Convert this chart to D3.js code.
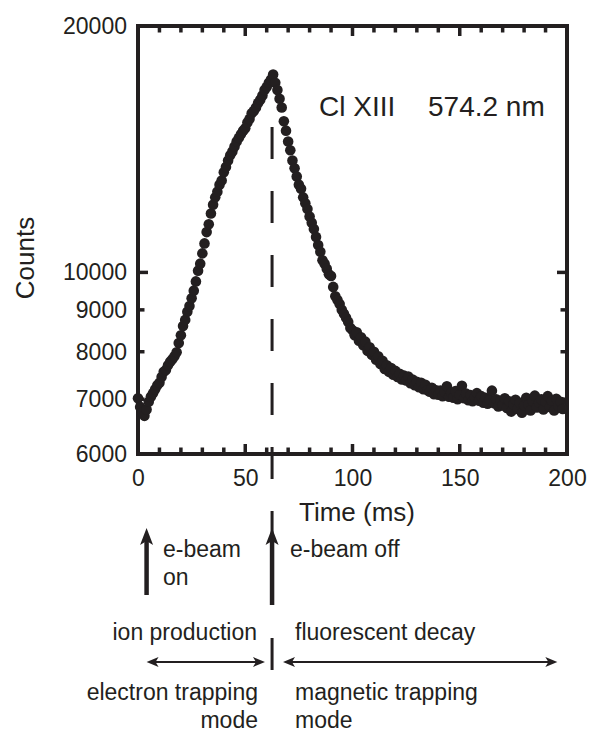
<!DOCTYPE html>
<html>
<head>
<meta charset="utf-8">
<script src="https://cdn.jsdelivr.net/npm/d3@7/dist/d3.min.js"></script>
<style>
body { margin: 0; background: #fff; }
text { font-family: "Liberation Sans", Arial, Helvetica, sans-serif; fill: #231f20; }
</style>
</head>
<body>
<div id="chart"></div>
<script>
// sample times (ms)
var timeMs = [
    0, 1, 2, 3, 4, 5, 6, 7, 8, 9, 10, 11, 12, 13, 14, 15, 16, 17, 18, 19,
    20, 21, 22, 23, 24, 25, 26, 27, 28, 29, 30, 31, 32, 33, 34, 35, 36, 37, 38, 39,
    40, 41, 42, 43, 44, 45, 46, 47, 48, 49, 50, 51, 52, 53, 54, 55, 56, 57, 58, 59,
    60, 61, 62, 63, 64, 65, 66, 67, 68, 69, 70, 71, 72, 73, 74, 75, 76, 77, 78, 79,
    80, 81, 82, 83, 84, 85, 86, 87, 88, 89, 90, 91, 92, 93, 94, 95, 96, 97, 98, 99,
    100, 101, 102, 103, 104, 105, 106, 107, 108, 109, 110, 111, 112, 113, 114, 115, 116, 117, 118, 119,
    120, 121, 122, 123, 124, 125, 126, 127, 128, 129, 130, 131, 132, 133, 134, 135, 136, 137, 138, 139,
    140, 141, 142, 143, 144, 145, 146, 147, 148, 149, 150, 151, 152, 153, 154, 155, 156, 157, 158, 159,
    160, 161, 162, 163, 164, 165, 166, 167, 168, 169, 170, 171, 172, 173, 174, 175, 176, 177, 178, 179,
    180, 181, 182, 183, 184, 185, 186, 187, 188, 189, 190, 191, 192, 193, 194, 195, 196, 197, 198
];

// Cl XIII 574.2 nm counts
var counts = [
    7020, 6850, 6750, 6680, 6800, 6950, 7050, 7120, 7200, 7280,
    7330, 7450, 7560, 7600, 7700, 7780, 7830, 7900, 7990, 8200,
    8380, 8600, 8750, 8950, 9100, 9300, 9500, 9750, 10050, 10250,
    10550, 10850, 11200, 11450, 11800, 12100, 12350, 12550, 12800, 12950,
    13250, 13450, 13700, 13900, 14050, 14250, 14450, 14600, 14750, 14900,
    15000, 15250, 15400, 15650, 15750, 15900, 16100, 16250, 16450, 16700,
    16850, 17050, 17200, 17450, 17050, 16700, 16300, 15900, 15300, 14900,
    14450, 14100, 13700, 13400, 13100, 12800, 12650, 12350, 12150, 11950,
    11700, 11500, 11300, 11050, 10800, 10600, 10350, 10250, 10100, 9950,
    9900, 9600, 9350, 9250, 9150, 9000, 8900, 8800, 8700, 8550,
    8500, 8380, 8450, 8250, 8330, 8150, 8230, 8020, 8100, 7930,
    8000, 7820, 7900, 7730, 7800, 7620, 7700, 7560, 7640, 7500,
    7580, 7450, 7520, 7400, 7480, 7380, 7460, 7320, 7400, 7280,
    7350, 7240, 7330, 7200, 7290, 7180, 7150, 7230, 7100, 7180,
    7090, 7170, 7060, 7140, 7260, 7050, 7130, 7030, 7160, 7000,
    7090, 7270, 7020, 7110, 6980, 7080, 6960, 7050, 7120, 6970,
    7060, 6930, 7030, 6910, 6990, 7170, 6920, 7000, 6860, 6970,
    6880, 7020, 6830, 6960, 6760, 6900, 6990, 6810, 6930, 6740,
    6880, 7030, 6890, 6780, 6960, 7070, 6840, 6930, 7000, 6800,
    6950, 7060, 6850, 6970, 6780, 7010, 6870, 6950, 6810
];

var xTicks = [0, 50, 100, 150, 200];
var xMinorTicks = [10, 20, 30, 40, 60, 70, 80, 90, 110, 120, 130, 140, 160, 170, 180, 190];
var yTicks = [10000];
var yMinorTicks = [7000, 8000, 9000];
var yLabels = [6000, 7000, 8000, 9000, 10000, 20000];

var beamOnMs = 4;
var beamOffMs = 62.5;
var productionSpan = [4, 59.2];
var decaySpan = [67.6, 195.5];

var ink = "#231f20";

var margin = {
    top: 26,
    right: 25,
    bottom: 280,
    left: 138
};

var width = 592 - margin.left - margin.right,
    height = 734 - margin.top - margin.bottom;

var root = d3.select("#chart").append("svg")
    .attr("width", 592)
    .attr("height", 734);

var svg = root.append("g")
    .attr("transform", "translate(" + margin.left + "," + margin.top + ")");

var x = d3.scaleLinear()
    .domain([0, 200])
    .range([0, width]);

var y = d3.scaleLog()
    .domain([6000, 20000])
    .range([height, 0]);

//ticks point inward on all four sides: long at labelled values, short between
var xMarks = xMinorTicks.map(function (v) { return {v: v, len: 6.5}; })
    .concat(xTicks.map(function (v) { return {v: v, len: 10}; }));
var yMarks = yMinorTicks.map(function (v) { return {v: v, len: 6.5}; })
    .concat(yTicks.map(function (v) { return {v: v, len: 10}; }));

var ticks = svg.append("g");

[height, 0].forEach(function (edge, k) {
    var dir = edge === 0 ? 1 : -1;
    ticks.selectAll(".xt" + k)
        .data(xMarks)
        .enter()
        .append("line")
        .attr("class", "xt" + k)
        .attr("x1", function (d) { return x(d.v); })
        .attr("x2", function (d) { return x(d.v); })
        .attr("y1", edge)
        .attr("y2", function (d) { return edge + dir * d.len; })
        .attr("stroke", ink)
        .attr("stroke-width", 3.5);
});

[0, width].forEach(function (edge, k) {
    var dir = edge === 0 ? 1 : -1;
    ticks.selectAll(".yt" + k)
        .data(yMarks)
        .enter()
        .append("line")
        .attr("class", "yt" + k)
        .attr("y1", function (d) { return y(d.v); })
        .attr("y2", function (d) { return y(d.v); })
        .attr("x1", edge)
        .attr("x2", function (d) { return edge + dir * d.len; })
        .attr("stroke", ink)
        .attr("stroke-width", 3.5);
});

//tick labels
var gx = svg.append("g")
    .attr("transform", "translate(0," + height + ")")
    .call(d3.axisBottom(x).tickValues(xTicks).tickSize(0).tickPadding(16));
var gy = svg.append("g")
    .call(d3.axisLeft(y).tickValues(yLabels).tickSize(0).tickPadding(11)
        .tickFormat(d3.format("d")));
gx.select(".domain").remove();
gy.select(".domain").remove();
gx.selectAll("text").attr("font-size", 23).attr("fill", ink);
gy.selectAll("text").attr("font-size", 23).attr("fill", ink);

//frame
svg.append("rect")
    .attr("width", width)
    .attr("height", height)
    .attr("fill", "none")
    .attr("stroke", ink)
    .attr("stroke-width", 4);

//beam off marker, carries on below the axis into the arrow
svg.append("line")
    .attr("x1", x(beamOffMs))
    .attr("x2", x(beamOffMs))
    .attr("y1", 101)
    .attr("y2", 515)
    .attr("stroke", ink)
    .attr("stroke-width", 3)
    .attr("stroke-dasharray", "32,32");

//data points
svg.selectAll(".dot")
    .data(counts)
    .enter()
    .append("circle")
    .attr("class", "dot")
    .attr("cx", function (d, i) { return x(timeMs[i]); })
    .attr("cy", function (d) { return y(d); })
    .attr("r", 5.3)
    .attr("fill", ink);

svg.append("text")
    .attr("x", 181)
    .attr("y", 90)
    .attr("font-size", 28)
    .text("Cl XIII");
svg.append("text")
    .attr("x", 290)
    .attr("y", 90)
    .attr("font-size", 28)
    .text("574.2 nm");

//axis titles
root.append("text")
    .attr("x", 357)
    .attr("y", 521)
    .attr("text-anchor", "middle")
    .attr("font-size", 26)
    .text("Time (ms)");

root.append("text")
    .attr("transform", "translate(34,258) rotate(-90)")
    .attr("text-anchor", "middle")
    .attr("font-size", 26)
    .text("Counts");

//annotations below the plot
var ann = root.append("g")
    .attr("transform", "translate(" + margin.left + ",0)");

function upArrow(g, xPos, tip, bottom) {
    g.append("line")
        .attr("x1", xPos).attr("x2", xPos)
        .attr("y1", tip + 12).attr("y2", bottom)
        .attr("stroke", ink).attr("stroke-width", 4.5);
    g.append("path")
        .attr("d", "M" + xPos + "," + tip + "L" + (xPos + 6.5) + "," + (tip + 17) +
            "L" + xPos + "," + (tip + 13) + "L" + (xPos - 6.5) + "," + (tip + 17) + "Z")
        .attr("fill", ink);
}

function doubleArrow(g, x1, x2, yPos) {
    g.append("line")
        .attr("x1", x1 + 4).attr("x2", x2 - 4)
        .attr("y1", yPos).attr("y2", yPos)
        .attr("stroke", ink).attr("stroke-width", 2);
    g.append("path")
        .attr("d", "M" + x1 + "," + yPos + "L" + (x1 + 12) + "," + (yPos - 5) +
            "L" + (x1 + 9) + "," + yPos + "L" + (x1 + 12) + "," + (yPos + 5) + "Z")
        .attr("fill", ink);
    g.append("path")
        .attr("d", "M" + x2 + "," + yPos + "L" + (x2 - 12) + "," + (yPos - 5) +
            "L" + (x2 - 9) + "," + yPos + "L" + (x2 - 12) + "," + (yPos + 5) + "Z")
        .attr("fill", ink);
}

upArrow(ann, x(beamOnMs), 528, 595);
upArrow(ann, x(beamOffMs), 528, 605);

ann.append("line")
    .attr("x1", x(beamOffMs)).attr("x2", x(beamOffMs))
    .attr("y1", 638).attr("y2", 670)
    .attr("stroke", ink).attr("stroke-width", 3);

doubleArrow(ann, x(productionSpan[0]), x(productionSpan[1]), 662);
doubleArrow(ann, x(decaySpan[0]), x(decaySpan[1]), 662);

var notes = [
    {t: "e-beam", x: 163, y: 557, a: "start"},
    {t: "on", x: 163, y: 585, a: "start"},
    {t: "e-beam off", x: 290, y: 557, a: "start"},
    {t: "ion production", x: 257, y: 640, a: "end"},
    {t: "fluorescent decay", x: 295, y: 640, a: "start"},
    {t: "electron trapping", x: 258, y: 700, a: "end"},
    {t: "mode", x: 258, y: 728, a: "end"},
    {t: "magnetic trapping", x: 295, y: 700, a: "start"},
    {t: "mode", x: 295, y: 728, a: "start"}
];

root.selectAll(".note")
    .data(notes)
    .enter()
    .append("text")
    .attr("class", "note")
    .attr("x", function (d) { return d.x; })
    .attr("y", function (d) { return d.y; })
    .attr("text-anchor", function (d) { return d.a; })
    .attr("font-size", 23)
    .text(function (d) { return d.t; });
</script>
</body>
</html>
